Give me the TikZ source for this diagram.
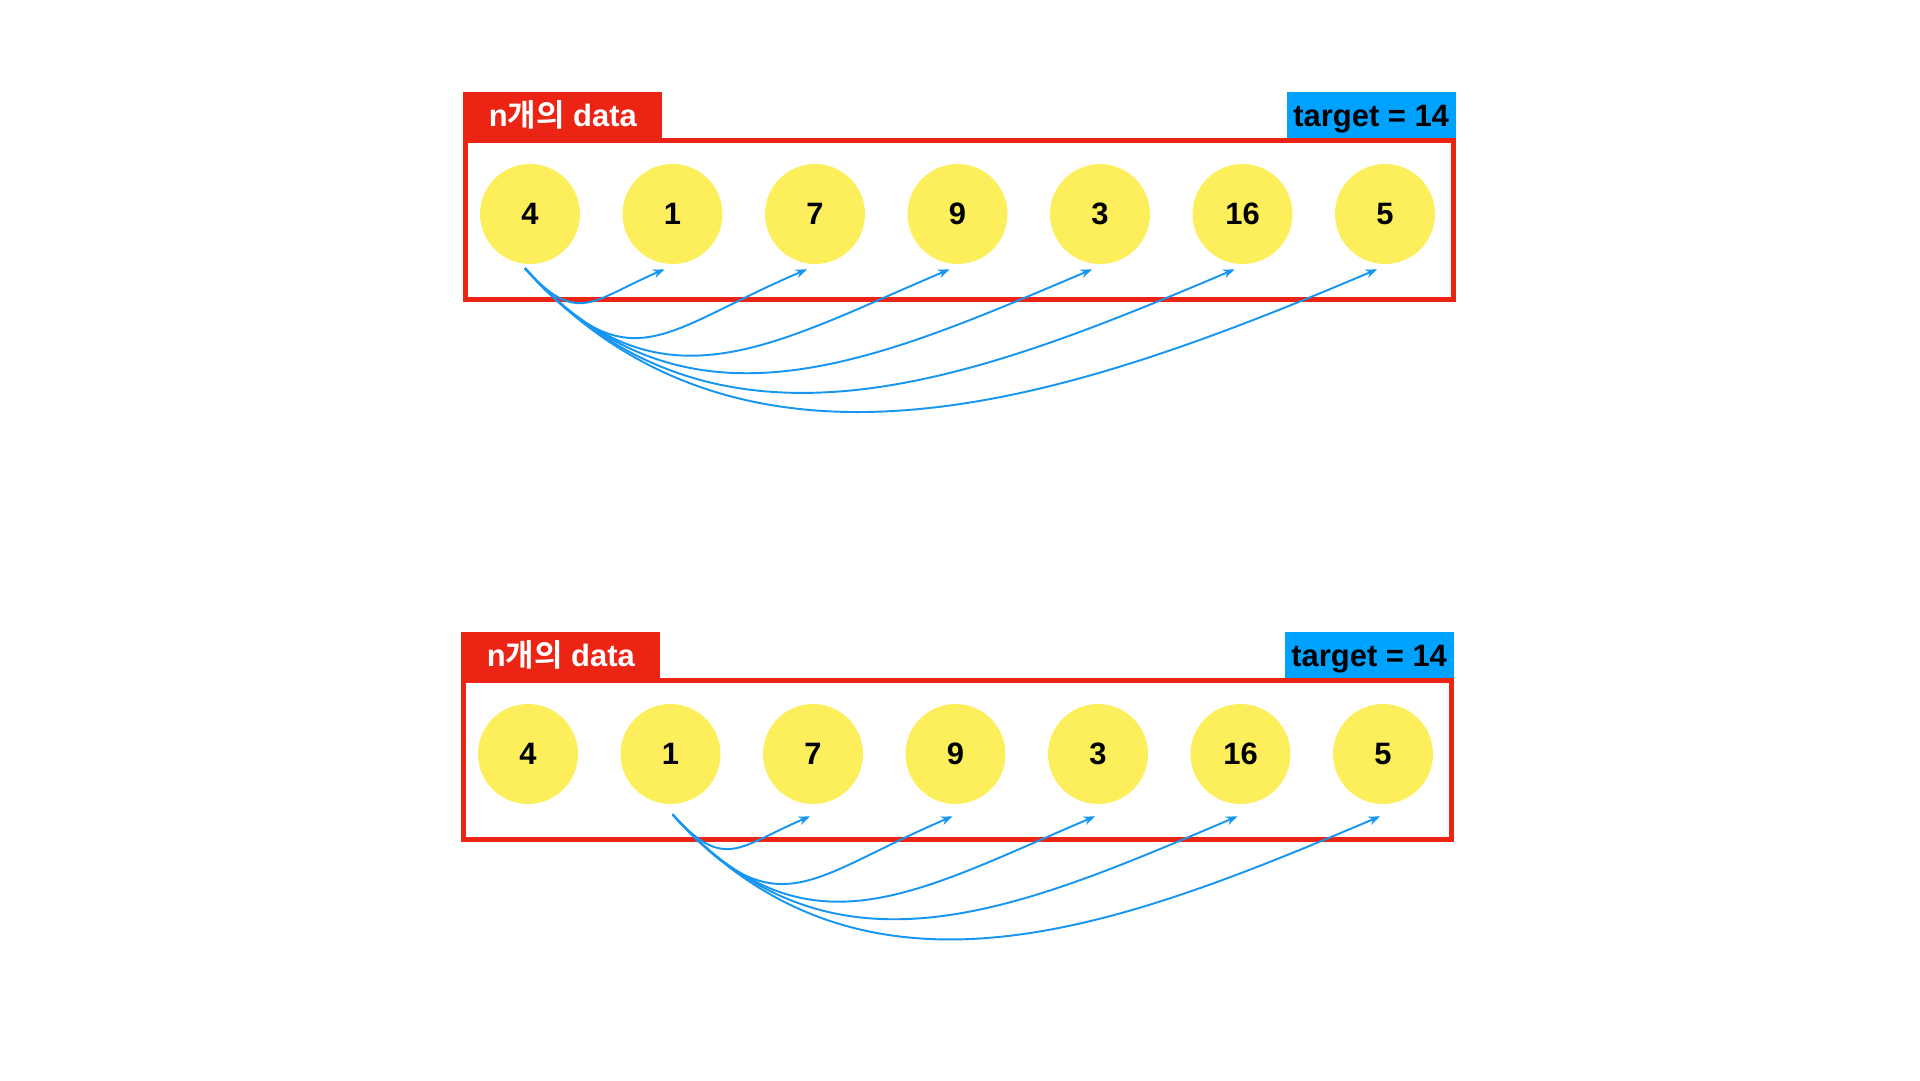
\documentclass[tikz,border=0pt]{standalone}
\usepackage{fontspec}
\setmainfont{Liberation Sans}
\newfontfamily\kr{Noto Sans CJK KR}[BoldFont={Noto Sans CJK KR Bold}]
\usepackage{tikz}
\usetikzlibrary{arrows.meta,positioning}
\definecolor{framered}{RGB}{236, 36, 20}
\definecolor{tagblue}{RGB}{0, 162, 255}
\definecolor{linkblue}{RGB}{22, 150, 240}
\definecolor{ballyellow}{RGB}{253, 238, 92}

\begin{document}
\begin{tikzpicture}[x=0.02cm, y=0.02cm,
    ball/.style={circle, fill=ballyellow, minimum size=2cm, inner sep=0pt, font=\fontsize{17.6}{20}\selectfont\bfseries},
    frame/.style={draw=framered, line width=0.1cm},
    datatag/.style={fill=framered, text=white, anchor=south west, minimum width=3.98cm, minimum height=0.92cm, inner sep=0pt, text height=13pt, text depth=0pt, font=\fontsize{17.6}{20}\selectfont\bfseries},
    targettag/.style={fill=tagblue, text=black, anchor=south east, minimum width=3.38cm, minimum height=0.92cm, inner sep=0pt, text height=13pt, text depth=0pt, font=\fontsize{17.6}{20}\selectfont\bfseries},
    link/.style={-{Stealth[length=6.5pt, width=5pt]}, draw=linkblue, line width=1.1pt}]
    \useasboundingbox (0,0) rectangle (1920,1080);

    % Upper panel
    \draw[frame] (465.5,939.5) rectangle (1453.5,780.5);
    \node[datatag] (tdata) at (463,942) {n{\kr 개의} data};
    \node[targettag] (ttarget) at (1456,942) {target = 14};
    \foreach \v [count=\i] in {4,1,7,9,3,16,5}
        \node[ball] (t\i) at ({530+142.5*(\i-1)},866) {\v};

    % Upper links, all from 4
    \foreach \j/\lo in {2/1.44, 3/1.44, 4/1.2, 5/1.08, 6/1.03, 7/0.99}
        \draw[link] ([shift={(-5,-4)}]t1.south) to[out=-48, in=203, looseness=\lo] ([shift={(-8,-5)}]t\j.south);

    % Lower panel
    \draw[frame] (463.5,399.5) rectangle (1451.5,240.5);
    \node[datatag] (bdata) at (461,402) {n{\kr 개의} data};
    \node[targettag] (btarget) at (1454,402) {target = 14};
    \foreach \v [count=\i] in {4,1,7,9,3,16,5}
        \node[ball] (b\i) at ({528+142.5*(\i-1)},326) {\v};

    % Lower links, all from 1
    \foreach \j/\lo in {3/1.44, 4/1.44, 5/1.2, 6/1.08, 7/1.03}
        \draw[link] ([shift={(2,-10)}]b2.south) to[out=-48, in=203, looseness=\lo] ([shift={(-3,-12)}]b\j.south);
\end{tikzpicture}
\end{document}
